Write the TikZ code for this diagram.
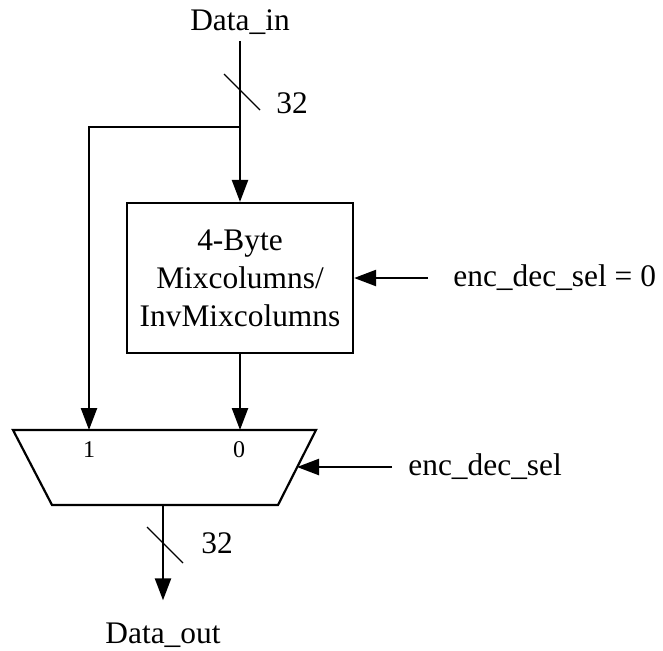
\documentclass[tikz,border=0pt]{standalone}
\usepackage{fontspec}
\setmainfont{Liberation Serif}
\usetikzlibrary{arrows.meta,calc}

\begin{document}
\begin{tikzpicture}[x=0.5pt,y=-0.5pt,
	sig/.style={line width=1.2pt,-{Triangle[width=8pt,length=11pt]}},
	wire/.style={line width=1.1pt},
	lbl/.style={font=\fontsize{15.7}{19}\selectfont,inner sep=0pt},
	pin/.style={font=\fontsize{12}{14}\selectfont,inner sep=0pt},
	busmark/.style={line width=0.6pt}]
			\useasboundingbox (0,0) rectangle (663,650);
			\node[lbl] (din) at (240,22) {Data\_in};
			\node[draw,line width=1.1pt,minimum width=113pt,minimum height=75pt,align=center,lbl] (mix) at (240,278) {4-Byte\\Mixcolumns/\\InvMixcolumns};
			\node[lbl,anchor=west] (sel0) at (453,278) {enc\_dec\_sel = 0};
			% multiplexer
			\coordinate (mux tl) at (13,430);
			\coordinate (mux tr) at (316,430);
			\coordinate (mux br) at (278,505);
			\coordinate (mux bl) at (52,505);
			\draw[wire] (mux tl) -- (mux tr) -- (mux br) -- (mux bl) -- cycle;
			\coordinate (in1) at (89,430);
			\coordinate (in0) at (240,430);
			\coordinate (muxsel) at (297,467);
			\coordinate (mout) at (163,505);
			\node[pin] (one) at (89,450) {1};
			\node[pin] (zero) at (239,450) {0};
			\node[lbl,anchor=west] (sel) at (408,467) {enc\_dec\_sel};
			\node[lbl] (dout) at (163,635) {Data\_out};
			% input bus and branch
			\coordinate (top) at ([yshift=-3pt]din.south);
			\coordinate (split) at (240,127);
			\draw[wire] (top) -- (split);
			\draw[sig] (split) -- (mix.north);
			\draw[sig] (split) -| (in1);
			\draw[sig] (mix.south) -- (in0);
			\draw[sig] ([xshift=-12.5pt]sel0.west) -- (mix.east);
			\draw[sig] ([xshift=-8pt]sel.west) -- (muxsel);
			\draw[sig] (mout) -- ([yshift=11pt]dout.north);
			% bus widths
			\coordinate (bus1) at (240,90);
			\draw[busmark] ($(bus1)+(-16,-16)$) -- ($(bus1)+(20,20)$);
			\node[lbl] (w1) at (292,103) {32};
			\coordinate (bus2) at (163,543);
			\draw[busmark] ($(bus2)+(-16,-16)$) -- ($(bus2)+(20,20)$);
			\node[lbl] (w2) at (217,543) {32};
			\end{tikzpicture}
\end{document}
